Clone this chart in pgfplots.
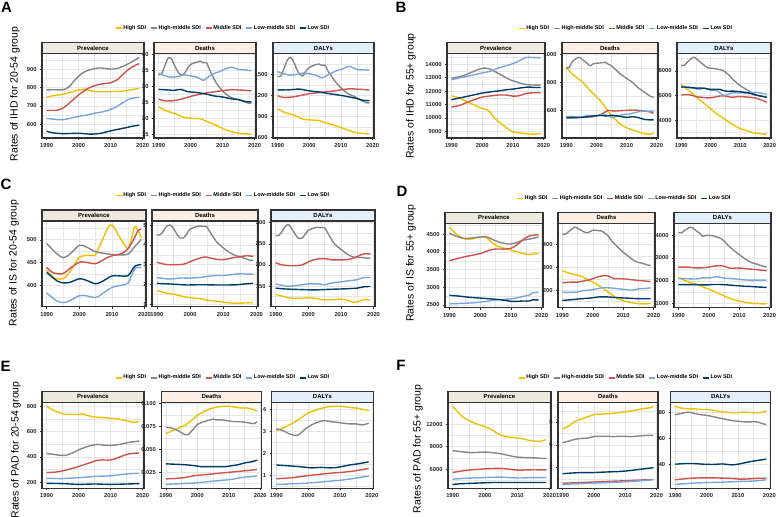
\documentclass[border=0pt]{standalone}
\usepackage{fontspec}
\setmainfont{Liberation Sans}
\usepackage{pgfplots}
\pgfplotsset{compat=1.18}

\definecolor{cHigh}{HTML}{EFC000}
\definecolor{cHM}{HTML}{868686}
\definecolor{cMid}{HTML}{CD534C}
\definecolor{cLM}{HTML}{7AA6DC}
\definecolor{cLow}{HTML}{003C67}
\definecolor{stripP}{HTML}{ECE9DF}
\definecolor{stripD}{HTML}{FDEFE3}
\definecolor{stripL}{HTML}{E3EFFB}
\definecolor{framec}{HTML}{333333}
\definecolor{gridc}{HTML}{E6E6E6}

\newcommand{\smallbf}{\fontsize{5.8}{6.3}\selectfont\bfseries}
\newcommand{\strip}[3]{%
  \draw[framec, line width=1.1bp, fill=#2] (#1.north west) rectangle ([yshift=11bp]#1.north east);
  \node[font=\fontsize{6}{7}\selectfont\bfseries, inner sep=0pt] at ([yshift=5.5bp]#1.north) {#3};
}

\pgfplotsset{
  facet/.style={
    scale only axis, anchor=south west,
    xmin=1988.55, xmax=2020.45,
    xtick={1990,2000,2010,2020}, minor xtick={1995,2005,2015},
    scaled ticks=false,
    /pgf/number format/1000 sep={},
    /pgf/number format/assume math mode=true,
    grid=both,
    major grid style={draw=gridc, line width=0.6bp},
    minor grid style={draw=gridc, line width=0.3bp},
    axis line style={draw=framec, line width=1.1bp},
    tick pos=left, tick align=outside,
    major tick length=2bp, minor tick length=0pt,
    major tick style={draw=framec, line width=0.5bp},
    ticklabel style={font=\smallbf, text=black!85},
    every axis plot/.append style={line width=1.4bp, smooth, no marks},
  },
  leg/.style={
    legend columns=5, legend cell align=left,
    legend style={draw=none, fill=none, inner sep=0pt, outer sep=0pt, anchor=west,
      font=\fontsize{5.5}{6}\selectfont\bfseries, nodes={inner sep=0.7bp},
      /tikz/every even column/.append style={column sep=3.5bp}},
    legend image code/.code={\draw[##1, line width=1.6bp] (0bp,0bp) -- (6bp,0bp);},
  },
  hi/.style={color=cHigh}, hm/.style={color=cHM}, mid/.style={color=cMid}, lm/.style={color=cLM}, lo/.style={color=cLow},
}

\begin{document}
\begin{tikzpicture}
\useasboundingbox (0,0) rectangle (778bp,-517bp);

% ---------------- A ----------------
\node[font=\fontsize{15}{15}\selectfont\bfseries] at (6.5bp,-7.5bp) {A};
\node[rotate=90, font=\fontsize{10.5}{11}\selectfont] at (15bp,-94bp) {Rates of IHD for 20-54 group};

\begin{axis}[facet, leg, name=aP, at={(42bp,-138bp)}, width=102bp, height=84.5bp,
  ymin=525, ymax=987, ytick={600,700,800,900}, minor ytick={550,650,750,850,950},
  legend style={at={(0.716,1.302)}}]
\addplot[hi] coordinates {(1990,748)(1992,756)(1995,764)(1998,778)(2000,788)(2002,791)(2004,782)(2006,778)(2010,779)(2013,780)(2015,784)(2017,790)(2019,797)};
\addplot[hm] coordinates {(1990,788)(1993,789)(1995,788)(1997,805)(1999,845)(2001,878)(2003,895)(2006,908)(2008,906)(2010,902)(2012,905)(2014,918)(2016,935)(2019,966)};
\addplot[mid] coordinates {(1990,676)(1993,676)(1995,688)(1997,714)(2000,760)(2003,797)(2006,816)(2008,822)(2010,827)(2012,843)(2014,875)(2016,905)(2018,925)(2019,931)};
\addplot[lm] coordinates {(1990,632)(1993,627)(1995,625)(1998,635)(2000,643)(2003,652)(2005,660)(2008,670)(2010,681)(2012,697)(2014,720)(2016,739)(2019,748)};
\addplot[lo] coordinates {(1990,562)(1992,553)(1995,549)(1998,550)(2000,551)(2004,546)(2007,551)(2010,564)(2013,575)(2015,582)(2017,590)(2019,595)};
\legend{High SDI,High-middle SDI,Middle SDI,Low-middle SDI,Low SDI}
\end{axis}
\strip{aP}{stripP}{Prevalence}

\begin{axis}[facet, name=aD, at={(154bp,-138bp)}, width=102bp, height=84.5bp,
  ymin=13.8, ymax=40.2, ytick={15,20,25,30,35,40}, minor ytick={17.5,22.5,27.5,32.5,37.5}]
\addplot[hi] coordinates {(1990,23.5)(1993,22)(1995,21.5)(1998,20.2)(2000,20)(2003,19.8)(2005,19)(2008,17.8)(2010,16.8)(2013,15.7)(2015,15.3)(2019,15.0)};
\addplot[hm] coordinates {(1990,33.5)(1991,34)(1992,36.5)(1993,38.8)(1994,38.5)(1995,36.5)(1996,34.5)(1997,33.5)(1998,33.8)(1999,35.5)(2000,36.8)(2002,37.5)(2003,37.8)(2004,37.3)(2005,37.3)(2006,35)(2007,33)(2008,31)(2010,28.5)(2012,26.8)(2014,26)(2016,25.5)(2018,24.7)(2019,24.7)};
\addplot[mid] coordinates {(1990,26)(1992,25.4)(1995,25.5)(1998,26.2)(2000,26.8)(2003,27.5)(2005,27.9)(2008,28.3)(2010,28.6)(2013,28.9)(2015,28.8)(2017,28.7)(2019,28.5)};
\addplot[lm] coordinates {(1990,34)(1992,33.2)(1994,32.8)(1996,33)(1998,33.5)(2000,33.2)(2002,32.8)(2004,31.8)(2005,32.5)(2007,33.8)(2009,34.5)(2010,35)(2012,35.8)(2013,35.9)(2015,35.2)(2017,35.1)(2019,34.8)};
\addplot[lo] coordinates {(1990,29)(1993,28.8)(1995,28.7)(1997,29)(1999,28.3)(2002,28)(2005,27.5)(2007,27)(2010,26.6)(2013,26)(2015,25.8)(2017,25.2)(2019,25.1)};
\end{axis}
\strip{aD}{stripD}{Deaths}

\begin{axis}[facet, name=aL, at={(273bp,-138bp)}, width=101bp, height=84.5bp,
  ymin=590, ymax=1800, ytick={600,900,1200,1500}, minor ytick={750,1050,1350,1650}]
\addplot[hi] coordinates {(1990,1010)(1992,960)(1995,920)(1998,860)(2000,850)(2003,840)(2005,810)(2008,770)(2010,740)(2013,690)(2015,665)(2017,655)(2019,645)};
\addplot[hm] coordinates {(1990,1470)(1991,1480)(1992,1580)(1993,1700)(1994,1745)(1995,1690)(1996,1580)(1997,1500)(1998,1480)(1999,1550)(2000,1600)(2002,1640)(2003,1650)(2004,1630)(2005,1630)(2006,1540)(2007,1480)(2008,1410)(2010,1310)(2012,1230)(2014,1190)(2016,1140)(2018,1095)(2019,1095)};
\addplot[mid] coordinates {(1990,1195)(1992,1170)(1995,1180)(1998,1205)(2000,1225)(2003,1240)(2005,1250)(2008,1265)(2010,1280)(2013,1295)(2015,1290)(2017,1285)(2019,1275)};
\addplot[lm] coordinates {(1990,1540)(1992,1510)(1994,1490)(1996,1500)(1998,1520)(2000,1510)(2002,1490)(2004,1450)(2005,1470)(2007,1520)(2009,1560)(2010,1570)(2012,1610)(2013,1615)(2015,1570)(2017,1565)(2019,1560)};
\addplot[lo] coordinates {(1990,1280)(1993,1278)(1995,1285)(1997,1290)(2000,1265)(2003,1250)(2005,1235)(2007,1220)(2010,1200)(2013,1175)(2015,1155)(2017,1130)(2019,1125)};
\end{axis}
\strip{aL}{stripL}{DALYs}

% ---------------- B ----------------
\node[font=\fontsize{15}{15}\selectfont\bfseries] at (401bp,-7.5bp) {B};
\node[rotate=90, font=\fontsize{10.5}{11}\selectfont] at (411bp,-96bp) {Rates of IHD for 55+ group};

\begin{axis}[facet, leg, name=bP, at={(447bp,-138bp)}, width=98bp, height=84.5bp,
  ymin=8493, ymax=14807, ytick={9000,10000,11000,12000,13000,14000}, minor ytick={8500,9500,10500,11500,12500,13500,14500},
  legend style={at={(0.724,1.298)}}]
\addplot[hi] coordinates {(1990,11650)(1993,11450)(1995,11200)(1997,11000)(2000,10700)(2002,10550)(2004,10000)(2006,9600)(2008,9250)(2010,8950)(2012,8870)(2015,8800)(2017,8780)(2019,8850)};
\addplot[hm] coordinates {(1990,12950)(1993,13100)(1995,13250)(1998,13550)(2000,13700)(2001,13720)(2003,13600)(2005,13350)(2007,13100)(2009,12850)(2011,12700)(2013,12550)(2015,12470)(2017,12450)(2019,12450)};
\addplot[mid] coordinates {(1990,10800)(1993,10950)(1995,11150)(1998,11400)(2000,11550)(2003,11650)(2005,11700)(2008,11700)(2010,11620)(2012,11650)(2014,11800)(2016,11870)(2019,11870)};
\addplot[lm] coordinates {(1990,12850)(1993,13000)(1995,13100)(1998,13250)(2000,13350)(2003,13500)(2005,13700)(2008,13900)(2010,14050)(2012,14250)(2014,14500)(2015,14520)(2017,14500)(2019,14480)};
\addplot[lo] coordinates {(1990,11350)(1993,11500)(1995,11600)(1998,11750)(2000,11850)(2003,11950)(2005,12000)(2008,12100)(2010,12150)(2013,12250)(2015,12300)(2017,12270)(2019,12270)};
\legend{High SDI,High-middle SDI,Middle SDI,Low-middle SDI,Low SDI}
\end{axis}
\strip{bP}{stripP}{Prevalence}

\begin{axis}[facet, name=bD, at={(562bp,-138bp)}, width=96bp, height=84.5bp,
  ymin=402, ymax=1008, ytick={600,800,1000}, minor ytick={500,700,900}]
\addplot[hi] coordinates {(1990,905)(1992,860)(1995,810)(1998,740)(2000,700)(2002,650)(2004,590)(2006,540)(2008,500)(2010,475)(2012,460)(2014,445)(2016,432)(2018,430)(2019,440)};
\addplot[hm] coordinates {(1990,905)(1991,910)(1992,950)(1994,980)(1995,970)(1997,935)(1998,920)(1999,935)(2001,940)(2003,945)(2004,930)(2005,920)(2006,900)(2008,860)(2010,830)(2012,800)(2014,760)(2016,730)(2018,700)(2019,695)};
\addplot[mid] coordinates {(1990,545)(1993,548)(1996,552)(1999,555)(2001,565)(2003,590)(2004,600)(2006,595)(2008,598)(2010,600)(2012,603)(2014,600)(2016,595)(2018,588)(2019,578)};
\addplot[lm] coordinates {(1990,555)(1992,557)(1995,550)(1997,565)(1998,560)(2000,560)(2002,570)(2004,560)(2005,548)(2007,560)(2009,570)(2011,575)(2013,585)(2015,595)(2017,595)(2019,593)};
\addplot[lo] coordinates {(1990,548)(1993,548)(1996,552)(1999,560)(2001,565)(2003,560)(2005,565)(2007,560)(2010,550)(2012,555)(2014,548)(2016,535)(2018,532)(2019,532)};
\end{axis}
\strip{bD}{stripD}{Deaths}

\begin{axis}[facet, name=bL, at={(677bp,-138bp)}, width=94bp, height=84.5bp,
  ymin=2538, ymax=9412, ytick={4000,6000,8000}, minor ytick={3000,5000,7000,9000}]
\addplot[hi] coordinates {(1990,6900)(1992,6500)(1995,5900)(1998,5300)(2000,4900)(2002,4500)(2004,4200)(2006,3850)(2008,3550)(2010,3300)(2012,3150)(2014,3000)(2016,2900)(2018,2850)(2019,2860)};
\addplot[hm] coordinates {(1990,8450)(1991,8450)(1992,8700)(1994,9100)(1995,9000)(1997,8600)(1999,8250)(2001,8200)(2003,8100)(2004,8050)(2006,7700)(2008,7200)(2010,6800)(2012,6500)(2014,6200)(2016,6000)(2018,5900)(2019,5850)};
\addplot[mid] coordinates {(1990,6050)(1993,6050)(1995,5900)(1997,5850)(1999,5800)(2001,5850)(2003,5950)(2005,5950)(2007,5850)(2009,5900)(2011,5900)(2013,5850)(2015,5800)(2017,5650)(2019,5450)};
\addplot[lm] coordinates {(1990,6700)(1992,6650)(1994,6600)(1996,6500)(1998,6600)(2000,6400)(2002,6400)(2004,6050)(2005,6000)(2007,6200)(2009,6200)(2011,6200)(2013,6150)(2015,6250)(2017,6200)(2019,6100)};
\addplot[lo] coordinates {(1990,6700)(1993,6650)(1995,6600)(1997,6600)(2000,6500)(2003,6500)(2005,6350)(2008,6350)(2010,6300)(2013,6200)(2015,6050)(2017,5950)(2019,5850)};
\end{axis}
\strip{bL}{stripL}{DALYs}

% ---------------- C ----------------
\node[font=\fontsize{15}{15}\selectfont\bfseries] at (6bp,-184bp) {C};
\node[rotate=90, font=\fontsize{10.5}{11}\selectfont] at (14bp,-263bp) {Rates of IS for 20-54 group};

\begin{axis}[facet, leg, name=cP, at={(42bp,-306.7bp)}, width=104bp, height=85.7bp,
  ymin=354, ymax=541, ytick={400,450,500}, minor ytick={375,425,475,525},
  legend style={at={(0.702,1.299)}}]
\addplot[hi] coordinates {(1990,433)(1992,418)(1993,415)(1995,415)(1997,429)(1999,452)(2000,462)(2002,466)(2004,466)(2005,468)(2007,499)(2009,529)(2010,532)(2011,524)(2012,510)(2014,488)(2015,481)(2016,503)(2017,529)(2018,521)(2019,504)};
\addplot[hm] coordinates {(1990,492)(1993,470)(1995,461)(1997,468)(2000,488)(2002,485)(2005,474)(2010,468)(2013,467)(2015,469)(2017,485)(2019,501)};
\addplot[mid] coordinates {(1990,440)(1992,428)(1995,426)(1997,437)(2000,451)(2002,451)(2005,448)(2008,459)(2010,465)(2013,470)(2015,481)(2017,505)(2018,520)(2019,523)};
\addplot[lm] coordinates {(1990,384)(1993,367)(1995,363)(1997,367)(2000,378)(2002,378)(2005,374)(2007,382)(2010,396)(2013,401)(2015,406)(2017,437)(2019,439)};
\addplot[lo] coordinates {(1990,429)(1993,411)(1995,406)(1997,407)(2000,415)(2002,412)(2005,404)(2007,409)(2010,421)(2013,421)(2015,422)(2017,442)(2019,446)};
\legend{High SDI,High-middle SDI,Middle SDI,Low-middle SDI,Low SDI}
\end{axis}
\strip{cP}{stripP}{Prevalence}

\begin{axis}[facet, name=cD, at={(152bp,-306.7bp)}, width=106bp, height=85.7bp,
  ymin=0.87, ymax=5.21, ytick={1,2,3,4,5}, minor ytick={1.5,2.5,3.5,4.5}]
\addplot[hi] coordinates {(1990,1.7)(1993,1.55)(1995,1.5)(1998,1.38)(2000,1.33)(2003,1.28)(2005,1.2)(2008,1.15)(2010,1.1)(2013,1.05)(2015,1.05)(2017,1.06)(2019,1.08)};
\addplot[hm] coordinates {(1990,4.5)(1991,4.52)(1992,4.7)(1993,4.95)(1994,5.0)(1995,4.85)(1996,4.55)(1997,4.35)(1998,4.35)(1999,4.55)(2000,4.8)(2002,4.93)(2003,4.97)(2004,4.93)(2005,4.93)(2006,4.65)(2007,4.4)(2008,4.15)(2010,3.85)(2012,3.6)(2014,3.45)(2016,3.35)(2018,3.22)(2019,3.22)};
\addplot[mid] coordinates {(1990,3.12)(1993,3.0)(1995,3.0)(1998,3.02)(2000,3.15)(2002,3.28)(2004,3.38)(2005,3.38)(2007,3.3)(2009,3.25)(2011,3.28)(2013,3.35)(2015,3.4)(2017,3.45)(2019,3.42)};
\addplot[lm] coordinates {(1990,2.35)(1993,2.28)(1995,2.28)(1997,2.32)(2000,2.32)(2003,2.35)(2005,2.4)(2008,2.45)(2010,2.45)(2013,2.5)(2015,2.55)(2017,2.52)(2019,2.52)};
\addplot[lo] coordinates {(1990,2.05)(1993,2.03)(1996,2.0)(1999,1.97)(2002,1.98)(2005,1.98)(2008,1.97)(2011,1.97)(2014,1.98)(2017,2.03)(2019,2.05)};
\end{axis}
\strip{cD}{stripD}{Deaths}

\begin{axis}[facet, name=cL, at={(271bp,-306.7bp)}, width=104bp, height=85.7bp,
  ymin=101, ymax=304, ytick={150,200,250,300}, minor ytick={125,175,225,275}]
\addplot[hi] coordinates {(1990,130)(1993,124)(1995,121)(1998,121)(2000,122)(2002,121)(2004,118)(2006,117)(2008,118)(2010,119)(2012,116)(2014,111)(2015,112)(2017,118)(2018,118)(2019,116)};
\addplot[hm] coordinates {(1990,270)(1991,270)(1992,280)(1993,292)(1994,295)(1995,285)(1996,272)(1997,263)(1998,263)(1999,272)(2000,282)(2002,288)(2003,289)(2004,288)(2005,288)(2006,275)(2007,262)(2008,250)(2010,237)(2012,225)(2014,218)(2016,218)(2018,216)(2019,216)};
\addplot[mid] coordinates {(1990,205)(1992,200)(1995,198)(1998,200)(2000,207)(2002,213)(2005,215)(2007,212)(2009,212)(2011,212)(2013,214)(2015,220)(2017,226)(2019,226)};
\addplot[lm] coordinates {(1990,155)(1993,150)(1995,150)(1998,153)(2000,155)(2003,155)(2005,153)(2007,157)(2010,160)(2013,163)(2015,165)(2017,170)(2019,170)};
\addplot[lo] coordinates {(1990,145)(1993,143)(1996,142)(2000,141)(2003,141)(2006,142)(2010,143)(2013,144)(2015,145)(2017,148)(2019,149)};
\end{axis}
\strip{cL}{stripL}{DALYs}

% ---------------- D ----------------
\node[font=\fontsize{15}{15}\selectfont\bfseries] at (402bp,-191bp) {D};
\node[rotate=90, font=\fontsize{10.5}{11}\selectfont] at (411bp,-263bp) {Rates of IS for 55+ group};

\begin{axis}[facet, leg, name=dP, at={(445bp,-307.7bp)}, width=98bp, height=84.4bp,
  ymin=2421, ymax=4808, ytick={2500,3000,3500,4000,4500}, minor ytick={2750,3250,3750,4250,4750},
  legend style={at={(0.728,1.296)}}]
\addplot[hi] coordinates {(1990,4700)(1992,4520)(1994,4400)(1996,4350)(1998,4380)(2000,4420)(2002,4400)(2004,4250)(2006,4150)(2008,4100)(2010,4050)(2012,4000)(2014,3950)(2016,3920)(2018,3950)(2019,3950)};
\addplot[hm] coordinates {(1990,4520)(1993,4420)(1995,4380)(1998,4400)(2000,4420)(2002,4430)(2004,4350)(2006,4280)(2008,4240)(2010,4220)(2012,4270)(2014,4330)(2016,4360)(2018,4400)(2019,4420)};
\addplot[mid] coordinates {(1990,3750)(1993,3820)(1996,3880)(1999,3930)(2001,3980)(2003,4050)(2005,4080)(2008,4080)(2010,4100)(2012,4200)(2014,4350)(2016,4450)(2018,4480)(2019,4480)};
\addplot[lm] coordinates {(1990,2530)(1993,2540)(1996,2550)(1999,2570)(2002,2600)(2005,2640)(2008,2660)(2010,2670)(2012,2700)(2014,2740)(2016,2780)(2017,2840)(2019,2860)};
\addplot[lo] coordinates {(1990,2770)(1993,2750)(1996,2720)(1999,2700)(2002,2680)(2005,2660)(2008,2630)(2010,2600)(2012,2600)(2014,2610)(2016,2610)(2017,2640)(2019,2640)};
\legend{High SDI,High-middle SDI,Middle SDI,Low-middle SDI,Low SDI}
\end{axis}
\strip{dP}{stripP}{Prevalence}

\begin{axis}[facet, name=dD, at={(558bp,-307.7bp)}, width=97bp, height=84.4bp,
  ymin=123, ymax=492, ytick={200,300,400}, minor ytick={150,250,350,450}]
\addplot[hi] coordinates {(1990,285)(1992,275)(1994,268)(1996,262)(1998,248)(2000,235)(2002,220)(2004,202)(2006,182)(2008,165)(2010,153)(2012,147)(2014,142)(2016,140)(2018,140)(2019,143)};
\addplot[hm] coordinates {(1990,445)(1991,445)(1992,455)(1994,475)(1995,470)(1997,455)(1998,450)(1999,455)(2000,462)(2002,460)(2003,458)(2004,448)(2005,438)(2006,418)(2008,390)(2010,365)(2012,345)(2014,325)(2016,318)(2018,310)(2019,308)};
\addplot[mid] coordinates {(1990,232)(1993,235)(1995,235)(1997,240)(1999,245)(2001,255)(2003,262)(2005,262)(2007,250)(2009,250)(2011,248)(2013,245)(2015,242)(2017,240)(2019,237)};
\addplot[lm] coordinates {(1990,190)(1993,190)(1995,192)(1997,198)(1999,200)(2001,205)(2003,210)(2005,210)(2007,208)(2009,205)(2011,202)(2013,200)(2015,205)(2017,207)(2019,210)};
\addplot[lo] coordinates {(1990,155)(1993,158)(1996,162)(1999,165)(2002,170)(2005,170)(2008,167)(2011,165)(2014,163)(2017,162)(2019,162)};
\end{axis}
\strip{dD}{stripD}{Deaths}

\begin{axis}[facet, name=dL, at={(674bp,-307.7bp)}, width=97bp, height=84.4bp,
  ymin=822, ymax=4518, ytick={1000,2000,3000,4000}, minor ytick={1500,2500,3500}]
\addplot[hi] coordinates {(1990,2150)(1992,2020)(1994,1920)(1996,1840)(1998,1740)(2000,1630)(2002,1520)(2004,1400)(2006,1280)(2008,1180)(2010,1110)(2012,1060)(2014,1020)(2016,1000)(2018,990)(2019,1000)};
\addplot[hm] coordinates {(1990,4120)(1991,4100)(1992,4200)(1994,4350)(1995,4280)(1997,4080)(1998,3950)(1999,3990)(2001,3980)(2003,3900)(2004,3850)(2005,3750)(2006,3600)(2008,3350)(2010,3150)(2012,2950)(2014,2800)(2016,2720)(2018,2630)(2019,2600)};
\addplot[mid] coordinates {(1990,2600)(1993,2600)(1995,2570)(1998,2570)(2000,2600)(2002,2650)(2004,2660)(2005,2640)(2007,2550)(2009,2560)(2011,2550)(2013,2520)(2015,2500)(2017,2470)(2019,2440)};
\addplot[lm] coordinates {(1990,2100)(1993,2090)(1996,2080)(1998,2130)(2000,2120)(2002,2170)(2003,2180)(2005,2120)(2007,2100)(2009,2080)(2011,2050)(2013,2030)(2015,2030)(2017,2030)(2019,2030)};
\addplot[lo] coordinates {(1990,1830)(1993,1830)(1996,1830)(1999,1820)(2002,1840)(2005,1830)(2008,1800)(2010,1780)(2012,1760)(2014,1750)(2016,1730)(2019,1710)};
\end{axis}
\strip{dL}{stripL}{DALYs}

% ---------------- E ----------------
\node[font=\fontsize{15}{15}\selectfont\bfseries] at (5.5bp,-366.5bp) {E};
\node[rotate=90, font=\fontsize{10.5}{11}\selectfont] at (16bp,-450bp) {Rates of PAD for 20-54 group};

\begin{axis}[facet, leg, name=eP, at={(42bp,-488.3bp)}, width=102bp, height=86bp,
  ymin=151, ymax=831, ytick={200,400,600,800}, minor ytick={300,500,700},
  legend style={at={(0.716,1.286)}}]
\addplot[hi] coordinates {(1990,800)(1992,770)(1994,750)(1996,735)(1998,735)(2000,735)(2001,740)(2003,725)(2005,715)(2008,710)(2010,705)(2012,700)(2014,690)(2016,680)(2017,672)(2018,675)(2019,680)};
\addplot[hm] coordinates {(1990,425)(1992,420)(1994,412)(1996,412)(1998,430)(2000,455)(2002,475)(2004,490)(2006,498)(2008,492)(2010,490)(2012,495)(2014,505)(2016,515)(2019,525)};
\addplot[mid] coordinates {(1990,275)(1993,280)(1996,295)(1999,315)(2002,340)(2005,365)(2007,375)(2010,375)(2012,390)(2014,410)(2016,425)(2019,430)};
\addplot[lm] coordinates {(1990,230)(1995,228)(2000,235)(2005,245)(2010,250)(2015,265)(2019,270)};
\addplot[lo] coordinates {(1990,190)(1995,188)(2000,182)(2005,185)(2010,182)(2015,185)(2019,188)};
\legend{High SDI,High-middle SDI,Middle SDI,Low-middle SDI,Low SDI}
\end{axis}
\strip{eP}{stripP}{Prevalence}

\begin{axis}[facet, name=eD, at={(161.3bp,-488.3bp)}, width=100.4bp, height=86bp,
  ymin=0.0072, ymax=0.1013, ytick={0.025,0.05,0.075,0.1}, minor ytick={0.0125,0.0375,0.0625,0.0875},
  yticklabel style={/pgf/number format/.cd, fixed, fixed zerofill, precision=3}]
\addplot[hi] coordinates {(1990,0.067)(1992,0.070)(1994,0.073)(1996,0.076)(1998,0.081)(2000,0.087)(2002,0.091)(2004,0.094)(2006,0.096)(2008,0.097)(2010,0.097)(2012,0.096)(2014,0.095)(2016,0.095)(2018,0.093)(2019,0.092)};
\addplot[hm] coordinates {(1990,0.074)(1992,0.073)(1994,0.070)(1996,0.066)(1997,0.066)(1998,0.069)(2000,0.077)(2002,0.080)(2004,0.082)(2005,0.083)(2006,0.082)(2008,0.082)(2010,0.081)(2012,0.080)(2014,0.080)(2016,0.079)(2018,0.078)(2019,0.080)};
\addplot[mid] coordinates {(1990,0.0175)(1993,0.018)(1996,0.019)(1999,0.021)(2002,0.022)(2005,0.023)(2008,0.024)(2011,0.025)(2014,0.026)(2017,0.027)(2019,0.028)};
\addplot[lm] coordinates {(1990,0.0115)(1993,0.012)(1996,0.0125)(1999,0.013)(2002,0.014)(2005,0.015)(2008,0.016)(2011,0.017)(2014,0.019)(2017,0.020)(2019,0.021)};
\addplot[lo] coordinates {(1990,0.034)(1993,0.0335)(1996,0.033)(1999,0.032)(2001,0.031)(2004,0.031)(2007,0.031)(2009,0.031)(2011,0.032)(2013,0.033)(2015,0.035)(2017,0.036)(2019,0.038)};
\end{axis}
\strip{eD}{stripD}{Deaths}

\begin{axis}[facet, name=eL, at={(271.7bp,-488.3bp)}, width=101.6bp, height=86bp,
  ymin=0.42, ymax=4.33, ytick={1,2,3,4}, minor ytick={0.5,1.5,2.5,3.5}]
\addplot[hi] coordinates {(1990,3.05)(1992,3.15)(1994,3.3)(1996,3.45)(1998,3.65)(2000,3.85)(2002,3.95)(2004,4.05)(2006,4.12)(2008,4.15)(2010,4.15)(2012,4.12)(2014,4.08)(2016,4.05)(2018,3.98)(2019,3.93)};
\addplot[hm] coordinates {(1990,3.12)(1992,3.05)(1994,2.9)(1996,2.82)(1997,2.85)(1999,3.1)(2001,3.3)(2003,3.42)(2005,3.5)(2007,3.45)(2009,3.42)(2011,3.38)(2013,3.35)(2015,3.35)(2017,3.3)(2019,3.38)};
\addplot[mid] coordinates {(1990,0.85)(1993,0.88)(1996,0.92)(1999,0.98)(2002,1.03)(2005,1.08)(2008,1.12)(2011,1.15)(2014,1.2)(2017,1.27)(2019,1.32)};
\addplot[lm] coordinates {(1990,0.6)(1993,0.61)(1996,0.63)(1999,0.65)(2002,0.68)(2005,0.72)(2008,0.76)(2011,0.8)(2014,0.86)(2017,0.93)(2019,0.97)};
\addplot[lo] coordinates {(1990,1.48)(1993,1.45)(1996,1.42)(1999,1.38)(2001,1.35)(2004,1.37)(2007,1.35)(2009,1.37)(2011,1.42)(2013,1.48)(2015,1.52)(2017,1.57)(2019,1.62)};
\end{axis}
\strip{eL}{stripL}{DALYs}

% ---------------- F ----------------
\node[font=\fontsize{15}{15}\selectfont\bfseries] at (401bp,-365bp) {F};
\node[rotate=90, font=\fontsize{10.5}{11}\selectfont] at (418bp,-449bp) {Rates of PAD for 55+ group};

\begin{axis}[facet, leg, name=fP, at={(448bp,-488.3bp)}, width=103bp, height=86bp,
  ymin=3428, ymax=14922, ytick={6000,9000,12000}, minor ytick={4500,7500,10500,13500},
  legend style={at={(0.680,1.286)}}]
\addplot[hi] coordinates {(1990,14400)(1991,13900)(1993,13000)(1995,12500)(1997,12100)(1999,11800)(2001,11500)(2003,11000)(2005,10500)(2007,10300)(2009,10200)(2011,10100)(2013,9900)(2015,9750)(2017,9700)(2019,9950)};
\addplot[hm] coordinates {(1990,8450)(1993,8300)(1996,8200)(1999,8250)(2001,8250)(2004,8100)(2006,7950)(2008,7750)(2010,7600)(2012,7550)(2015,7500)(2017,7450)(2019,7450)};
\addplot[mid] coordinates {(1990,5550)(1993,5750)(1996,5900)(1999,6000)(2001,6050)(2004,6100)(2006,6050)(2009,5900)(2011,5850)(2014,5900)(2017,5900)(2019,5900)};
\addplot[lm] coordinates {(1990,4650)(1993,4750)(1996,4800)(1999,4850)(2002,4900)(2005,4920)(2008,4850)(2011,4800)(2014,4850)(2017,4850)(2019,4850)};
\addplot[lo] coordinates {(1990,3950)(1993,4050)(1996,4100)(1999,4150)(2002,4200)(2005,4200)(2008,4200)(2011,4200)(2014,4200)(2017,4200)(2019,4200)};
\legend{High SDI,High-middle SDI,Middle SDI,Low-middle SDI,Low SDI}
\end{axis}
\strip{fP}{stripP}{Prevalence}

\begin{axis}[facet, name=fD, at={(558bp,-488.3bp)}, width=100bp, height=86bp,
  ymin=0.285, ymax=11.615, ytick={3,6,9}, minor ytick={1.5,4.5,7.5,10.5}]
\addplot[hi] coordinates {(1990,8.1)(1992,8.5)(1994,9.1)(1996,9.4)(1998,9.7)(2000,10.0)(2002,10.05)(2004,10.1)(2006,10.15)(2008,10.25)(2010,10.35)(2012,10.5)(2014,10.65)(2016,10.8)(2018,10.9)(2019,11.1)};
\addplot[hm] coordinates {(1990,6.3)(1992,6.5)(1994,6.75)(1996,6.85)(1998,6.9)(2000,7.1)(2003,7.15)(2006,7.1)(2009,7.15)(2012,7.1)(2015,7.2)(2017,7.25)(2019,7.25)};
\addplot[mid] coordinates {(1990,0.95)(1993,1.0)(1996,1.05)(1999,1.1)(2002,1.15)(2005,1.2)(2008,1.25)(2011,1.3)(2014,1.35)(2017,1.42)(2019,1.45)};
\addplot[lm] coordinates {(1990,0.8)(1993,0.85)(1996,0.9)(1999,0.95)(2002,1.0)(2005,1.05)(2008,1.1)(2011,1.17)(2014,1.25)(2017,1.35)(2019,1.4)};
\addplot[lo] coordinates {(1990,2.2)(1993,2.3)(1996,2.35)(1999,2.35)(2002,2.4)(2005,2.45)(2008,2.5)(2011,2.6)(2014,2.75)(2017,2.9)(2019,3.0)};
\end{axis}
\strip{fD}{stripD}{Deaths}

\begin{axis}[facet, name=fL, at={(670.7bp,-488.3bp)}, width=100bp, height=86bp,
  ymin=21.5, ymax=87.5, ytick={40,60,80}, minor ytick={30,50,70}]
\addplot[hi] coordinates {(1990,84.5)(1992,83)(1994,82.5)(1996,82.5)(1998,82)(2000,82)(2002,81.5)(2004,80.5)(2006,80)(2008,79.5)(2010,79.5)(2012,80)(2014,79.5)(2016,79.5)(2018,80)(2019,81)};
\addplot[hm] coordinates {(1990,78)(1992,79)(1994,80)(1996,79)(1998,78)(2000,77.5)(2002,76.5)(2004,75.5)(2006,74.5)(2008,73.5)(2010,73)(2012,72.5)(2014,72.5)(2016,72.5)(2018,71)(2019,70.5)};
\addplot[mid] coordinates {(1990,28)(1993,28.8)(1996,29.3)(1999,29.5)(2002,29.5)(2005,29.3)(2008,29)(2011,28.5)(2014,28.8)(2017,29.2)(2019,29)};
\addplot[lm] coordinates {(1990,24.5)(1993,25)(1996,25.5)(1999,25.8)(2002,26)(2005,26.2)(2008,26.5)(2011,26.8)(2014,27)(2017,27.5)(2019,28)};
\addplot[lo] coordinates {(1990,40)(1993,40.5)(1996,40.5)(1999,40)(2002,39.8)(2005,40.2)(2008,39.5)(2010,40)(2012,41)(2014,42)(2016,42.8)(2018,43.5)(2019,44)};
\end{axis}
\strip{fL}{stripL}{DALYs}

\end{tikzpicture}
\end{document}
